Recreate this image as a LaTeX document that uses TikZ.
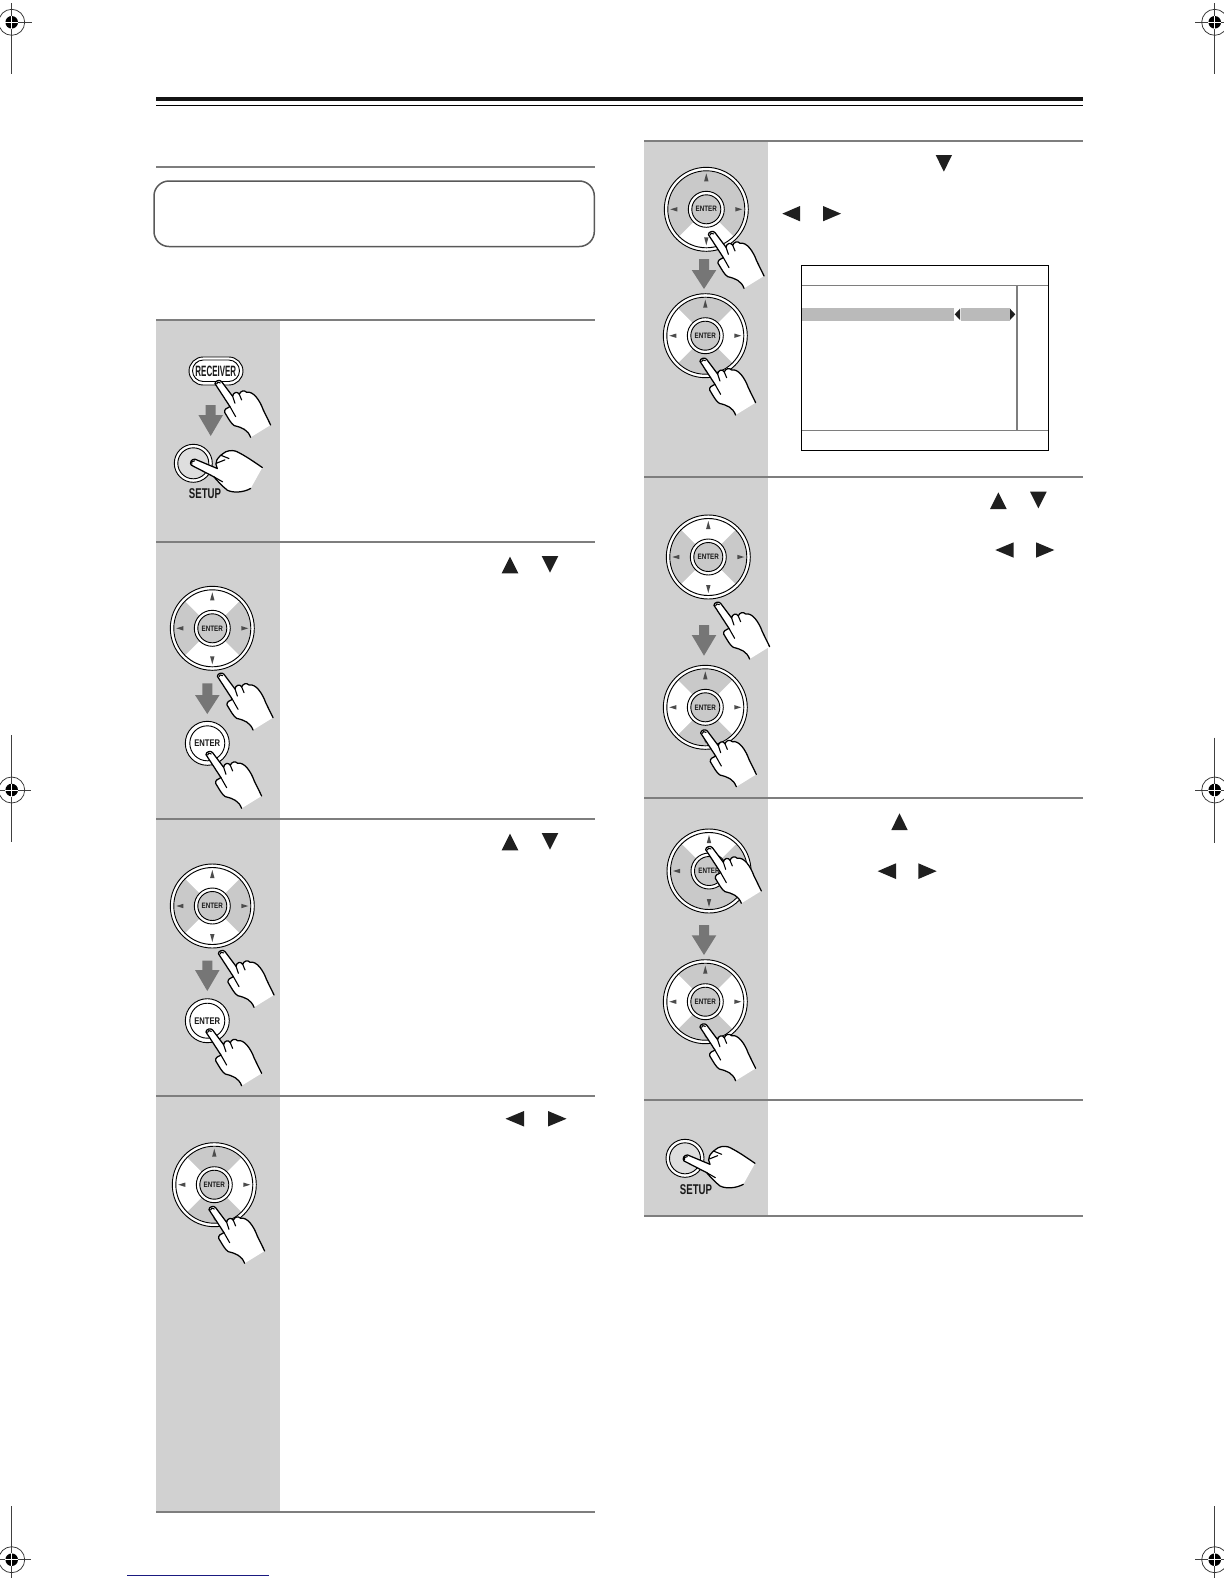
\documentclass[tikz,border=0pt]{standalone}
\usepackage{fontspec}
\setmainfont{Liberation Sans}
\definecolor{panelgray}{HTML}{D1D1D1}
\definecolor{rulegray}{HTML}{7E7E7E}
\definecolor{arrowgray}{HTML}{767676}
\definecolor{barblue}{HTML}{1A1A80}
\definecolor{dpadfill}{HTML}{C9C9C9}
\definecolor{setupfill}{HTML}{DEDEDE}
\definecolor{menubar}{HTML}{BABABA}
\tikzset{
  panel/.style={fill=panelgray,draw=none},
  rulerline/.style={draw=rulegray,line width=1.2pt},
  handfill/.style={fill=white,draw=black,line width=0.75pt,line join=round,line cap=round},
  handline/.style={draw=black,line width=0.65pt,line cap=round},
  ringline/.style={draw=black,line width=0.55pt},
  glyph/.style={fill=black!88},
  minitri/.style={fill=black!70},
  bigdown/.style={fill=arrowgray},
  labeltext/.style={inner sep=0pt,outer sep=0pt,text=black!90}
}
% vertical hand, tip at #1,#2
\newcommand{\fingerhand}[2]{%
\begin{scope}[shift={(#1,#2)},scale=1/3]
\filldraw[handfill] (157,128) -- (135,83) .. controls (125,55) and (105,25) .. (85,30)
  .. controls (78,22) and (66,26) .. (63,36) .. controls (58,26) and (44,30) .. (43,42)
  -- (10,-2) .. controls (5,-9) and (-10,-5) .. (-10,4) -- (35,73)
  .. controls (26,76) and (17,82) .. (19,90) .. controls (30,108) and (38,124) .. (48,130)
  .. controls (72,136) and (88,142) .. (97,165);
\draw[handline] (35,73) -- (52,103) (43,42) -- (50,63) (63,36) -- (70,53);
\draw[handline] (-5,5) .. controls (-6,0) and (2,-3) .. (6,2);
\end{scope}}
% horizontal hand, tip at #1,#2
\newcommand{\sidehand}[2]{%
\begin{scope}[shift={(#1,#2)},scale=1/3]
\filldraw[handfill] (172,78) .. controls (150,90) and (120,92) .. (102,83)
  .. controls (88,72) and (72,55) .. (62,43) -- (-6,8)
  .. controls (-12,2) and (-6,-11) .. (5,-10) -- (72,18)
  .. controls (62,0) and (70,-15) .. (97,-32) .. controls (110,-38) and (125,-36) .. (132,-32)
  .. controls (160,-18) and (185,0) .. (207,15);
\draw[handline] (62,43) -- (88,58) (82,-22) -- (107,-12) (70,2) -- (95,-8);
\draw[handline] (-4,5) .. controls (-9,0) and (-4,-6) .. (4,-5);
\end{scope}}
% d-pad: name, x, y, list of white sector angles
\newcommand{\dpad}[4]{%
\begin{scope}[shift={(#2,#3)}]
\fill[white] (0,0) circle (42);
\fill[dpadfill] (0,0) circle (38);
\foreach \a in {#4}{
  \fill[white] (0,0) -- (\a-45:38) -- (\a-30:38) -- (\a-15:38) -- (\a:38) -- (\a+15:38) -- (\a+30:38) -- (\a+45:38) -- cycle;
}
\draw[ringline] (0,0) circle (42) (0,0) circle (38.5);
\filldraw[fill=white,ringline] (0,0) circle (18);
\filldraw[fill=dpadfill,ringline] (0,0) circle (14.5);
\fill[minitri] (-2.2,-28) -- (2.2,-28) -- (0,-36) -- cycle;
\fill[minitri] (-2.2,28) -- (2.2,28) -- (0,36) -- cycle;
\fill[minitri] (-29,-2.2) -- (-29,2.2) -- (-36,0) -- cycle;
\fill[minitri] (29,-2.2) -- (29,2.2) -- (36,0) -- cycle;
\node[labeltext] (#1) at (0,0) {\fontsize{4.7}{5}\selectfont\scalebox{0.8}[1]{\bfseries ENTER}};
\end{scope}}
% enter button: name, x, y
\newcommand{\enterbtn}[3]{%
\filldraw[fill=white,ringline] (#2,#3) circle (22);
\draw[ringline] (#2,#3) circle (17.5);
\node[labeltext] (#1) at (#2,#3) {\fontsize{5.8}{6}\selectfont\scalebox{0.79}[1]{\bfseries ENTER}};}
% setup button: name, x, y, label x, label y
\newcommand{\setupbtn}[5]{%
\filldraw[fill=white,ringline] (#2,#3) circle (19);
\filldraw[fill=setupfill,ringline] (#2,#3) circle (15.5);
\node[labeltext] (#1) at (#4,#5) {\fontsize{8.5}{9}\selectfont\scalebox{0.68}[1]{\bfseries SETUP}};}
% big arrow: x, top, neck, tip
\newcommand{\bigarrow}[4]{%
\fill[bigdown] ({#1-5},#2) -- ({#1+5},#2) -- ({#1+5},#3) -- ({#1+12.3},#3) -- (#1,#4) -- ({#1-12.3},#3) -- ({#1-5},#3) -- cycle;}
% registration mark
\newcommand{\regmark}[6]{%
\draw[black!75,line width=0.4pt] (#1,#3) -- (#1,#4) (#5,#2) -- (#6,#2);
\draw[black!80,line width=0.45pt] (#1,#2) circle (13);
\fill[black] (#1,#2) circle (6.3);
\draw[white,line width=0.45pt] ({#1-6.5},#2) -- ({#1+6.5},#2) (#1,{#2-6.5}) -- (#1,{#2+6.5});}
% text glyph triangles
\newcommand{\upt}[4]{\fill[glyph] (#1,#4) -- (#2,#4) -- ({(#1+#2)/2},#3) -- cycle;}
\newcommand{\dnt}[4]{\fill[glyph] (#1,#3) -- (#2,#3) -- ({(#1+#2)/2},#4) -- cycle;}
\newcommand{\lft}[4]{\fill[glyph] (#1,{(#3+#4)/2}) -- (#2,#3) -- (#2,#4) -- cycle;}
\newcommand{\rgt}[4]{\fill[glyph] (#1,#3) -- (#2,{(#3+#4)/2}) -- (#1,#4) -- cycle;}
\begin{document}
\begin{tikzpicture}[x=0.6pt,y=-0.6pt]
\useasboundingbox (0,0) rectangle (1224,1584);
\clip (0,0) rectangle (1224,1584);
\fill[white] (0,0) rectangle (1224,1584);
% header
\fill[black!92] (156,97.3) rectangle (1083,101);
\draw[black,line width=0.6pt] (156,105.3) -- (1083,105.3);
% panels
\fill[panel] (156,320) rectangle (280,1512);
\fill[panel] (644,140) rectangle (768,1216);
% rules
\draw[rulerline,line width=1.1pt] (156,167) -- (595,167);
\foreach \y in {320,541.5,819,1096,1512}{\draw[rulerline] (156,\y) -- (595,\y);}
\foreach \y in {141,477,798,1100,1216}{\draw[rulerline] (644,\y) -- (1083,\y);}
% note box
\draw[black!65,line width=0.9pt,rounded corners=9pt] (154,181) rectangle (594.3,246.5);
% left panel 1
\filldraw[fill=white,ringline,rounded corners=8.5pt] (189,357) rectangle (243,385);
\draw[ringline,rounded corners=6.5pt] (192.5,360) rectangle (239.5,381.5);
\node[labeltext] (receiver) at (215.8,371) {\fontsize{9}{10}\selectfont\scalebox{0.53}[1]{\bfseries RECEIVER}};
\fingerhand{218.3}{382.3}
\bigarrow{210.7}{405}{415}{436}
\setupbtn{setupa}{193.3}{463.3}{205}{494}
\sidehand{193.3}{462.5}
% left panel 2
\dpad{da}{212.3}{628.3}{270,90}
\fingerhand{220.7}{675}
\bigarrow{207.3}{683.3}{695}{714}
\enterbtn{ea}{207.3}{743.3}
\fingerhand{209.3}{753.3}
\upt{501.7}{518.3}{556.7}{573.3}
\dnt{541.7}{558.3}{556}{572.7}
% left panel 3
\dpad{db}{212.3}{906}{270,90}
\fingerhand{221.7}{952.3}
\bigarrow{207.3}{960.7}{970}{991}
\enterbtn{eb}{207.3}{1020.7}
\fingerhand{209.3}{1030.7}
\upt{501.7}{518.3}{833.7}{850.3}
\dnt{541.7}{558.3}{833}{849.7}
% left panel 4
\dpad{dc}{214.3}{1184.7}{0,180}
\fingerhand{212.3}{1208.3}
\lft{505.5}{524}{1111}{1126.5}
\rgt{548}{566.5}{1111}{1126.5}
% right panel 1
\dpad{dd}{706.3}{209.3}{90}
\fingerhand{711.7}{233.3}
\bigarrow{704}{259}{270}{289}
\dpad{de}{705.3}{335.7}{0,180}
\fingerhand{703.3}{360}
\dnt{935.7}{952}{155}{171.7}
\lft{782.3}{800}{206}{221.3}
\rgt{823}{841}{206}{221.3}
% menu box
\fill[menubar] (801.7,308) rectangle (954,320.7);
\fill[menubar] (960.7,308) rectangle (1010,320.7);
\lft{954.7}{960}{308.7}{320}
\rgt{1010}{1015.3}{308.7}{320}
\draw[rulegray,line width=0.6pt] (801.7,285.3) -- (1048.3,285.3) (801.7,430.3) -- (1048.3,430.3);
\draw[rulegray,line width=1pt] (1017,285.3) -- (1017,430.3);
\draw[black,line width=0.6pt] (801.7,265.7) rectangle (1048.3,450.3);
% right panel 2
\dpad{df}{708.3}{557}{270,90}
\fingerhand{717.3}{604}
\bigarrow{704}{625}{635}{655.7}
\dpad{dg}{705.3}{707.3}{0,180}
\fingerhand{704}{731.7}
\upt{990}{1006.7}{492.3}{509}
\dnt{1030}{1046.7}{491.7}{508.3}
\lft{995.3}{1013.7}{542.3}{557.7}
\rgt{1036}{1054.3}{542.3}{557.7}
% right panel 3
\dpad{dh}{709}{871}{270}
\fingerhand{709}{848.3}
\bigarrow{704}{925}{935.3}{955}
\dpad{di}{705.3}{1001.7}{0,180}
\fingerhand{703.3}{1025.7}
\upt{891.3}{907.7}{813.3}{830}
\lft{877.7}{896}{863.3}{879}
\rgt{918.3}{936.7}{863.3}{879}
% right panel 4
\setupbtn{setupb}{685}{1158.3}{696}{1190}
\sidehand{686}{1158.3}
% registration marks
\regmark{11.7}{22.3}{3}{74}{5}{31.7}
\regmark{11.7}{790}{735}{842}{0}{31}
\regmark{11.7}{1559.7}{1506}{1578}{0}{31}
\regmark{1214.7}{22.3}{3}{74}{1195}{1224}
\regmark{1214.7}{790}{737.7}{842.7}{1195}{1224}
\regmark{1214.7}{1559.7}{1506}{1578}{1195}{1224}
% bottom blue rule
\draw[barblue,line width=0.6pt] (127,1575) -- (269,1575);
\end{tikzpicture}
\end{document}
